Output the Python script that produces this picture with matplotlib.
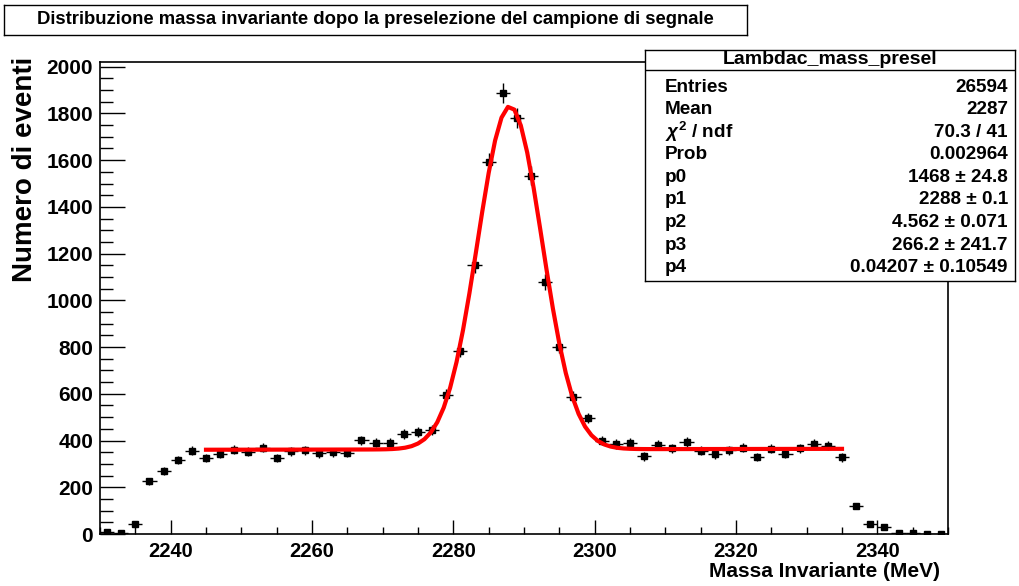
import numpy as np
import matplotlib
matplotlib.use("Agg")
import matplotlib.pyplot as plt
from matplotlib.ticker import MultipleLocator
from matplotlib.lines import Line2D

plt.rcParams['font.family'] = ['Liberation Sans', 'DejaVu Sans']
plt.rcParams['font.weight'] = 'bold'
plt.rcParams['mathtext.fontset'] = 'custom'
plt.rcParams['mathtext.rm'] = 'Liberation Sans:bold'
plt.rcParams['mathtext.it'] = 'Liberation Sans:bold:italic'

# Histogram: 60 bins of 2 MeV between 2230 and 2350
bin_lo, bin_hi, n_bins = 2230.0, 2350.0, 60
counts = [8, 6, 41, 225, 271, 317, 356, 325, 342, 361,
          352, 369, 325, 354, 358, 345, 350, 348, 401, 391,
          391, 428, 435, 446, 595, 785, 1152, 1592, 1887, 1781,
          1534, 1078, 802, 588, 497, 399, 385, 389, 332, 382,
          367, 394, 356, 341, 359, 369, 329, 364, 342, 367,
          385, 378, 328, 118, 42, 31, 3, 4, 2, 2]

# gaus + pol1 fit result
fit_params = [1468.0, 2288.0, 4.562, 266.2, 0.04207]
fit_range = (2245.0, 2335.0)

stats_title = "Lambdac_mass_presel"
stats_labels = ["Entries", "Mean", r"$\chi^{2}$ / ndf", "Prob", "p0", "p1", "p2", "p3", "p4"]
stats_values = ["26594", "2287", "70.3 / 41", "0.002964", "1468 \u00b1 24.8",
                "2288 \u00b1 0.1", "4.562 \u00b1 0.071", "266.2 \u00b1 241.7",
                "0.04207 \u00b1 0.10549"]

title = "Distribuzione massa invariante dopo la preselezione del campione di segnale"
xlabel = "Massa Invariante (MeV)"
ylabel = "Numero di eventi"

W, H = 1020, 586


def fx(x):
    return x / W


def fy(y):
    return 1 - y / H


def fit_func(x, p):
    return p[0] * np.exp(-0.5 * ((x - p[1]) / p[2]) ** 2) + p[3] + p[4] * x


fig = plt.figure(figsize=(W / 100, H / 100), dpi=100)
fig.patch.set_facecolor('white')

# main frame
ax = fig.add_axes([fx(100), fy(534), fx(948 - 100), (534 - 62) / H])
edges = np.linspace(bin_lo, bin_hi, n_bins + 1)
centers = 0.5 * (edges[:-1] + edges[1:])
half = 0.5 * (edges[1] - edges[0])
y = np.array(counts, dtype=float)
ax.errorbar(centers, y, xerr=half, yerr=np.sqrt(y), fmt='s', color='black',
            ms=5, elinewidth=1, capsize=0, zorder=3)

xf = np.linspace(fit_range[0], fit_range[1], 100)
ax.plot(xf, fit_func(xf, fit_params), color='#ff0000', lw=3, zorder=4)

ax.set_xlim(bin_lo, bin_hi)
ax.set_ylim(0, 2020)
ax.xaxis.set_major_locator(MultipleLocator(20))
ax.xaxis.set_minor_locator(MultipleLocator(5))
ax.yaxis.set_major_locator(MultipleLocator(200))
ax.yaxis.set_minor_locator(MultipleLocator(50))
ax.tick_params(axis='x', which='major', direction='in', length=10, width=1, pad=6, labelsize=14.5)
ax.tick_params(axis='x', which='minor', direction='in', length=5, width=1)
ax.tick_params(axis='y', which='major', direction='in', length=18, width=1, pad=5, labelsize=15)
ax.tick_params(axis='y', which='minor', direction='in', length=9, width=1)
for lab in ax.get_xticklabels() + ax.get_yticklabels():
    lab.set_fontweight('bold')
for sp in ax.spines.values():
    sp.set_linewidth(1.2)

fig.text(fx(940), fy(577), xlabel, ha='right', va='baseline', fontsize=15, fontweight='bold')
fig.text(fx(25), fy(57), ylabel, rotation=90, ha='center', va='top', fontsize=20, fontweight='bold')

# title pave
tax = fig.add_axes([fx(4), fy(35), fx(747 - 4), 30 / H])
tax.set_xticks([])
tax.set_yticks([])
for sp in tax.spines.values():
    sp.set_linewidth(1.0)
tax.text(0.5, 0.5, title, ha='center', va='center', fontsize=13.3, fontweight='bold',
         transform=tax.transAxes)

# stats pave
sx0, sx1, sy0, sy1 = 645, 1015, 50, 281
sax = fig.add_axes([fx(sx0), fy(sy1), fx(sx1 - sx0), (sy1 - sy0) / H], zorder=5)
sax.set_xlim(sx0, sx1)
sax.set_ylim(sy1, sy0)
sax.set_xticks([])
sax.set_yticks([])
for sp in sax.spines.values():
    sp.set_linewidth(1.0)
sax.add_line(Line2D([sx0, sx1], [70, 70], color='black', lw=1.0))
sax.text(0.5 * (sx0 + sx1), 60, stats_title, ha='center', va='center', fontsize=14, fontweight='bold')
row_y = 87
for lab, val in zip(stats_labels, stats_values):
    sax.text(665, row_y, lab, ha='left', va='center', fontsize=13.6, fontweight='bold')
    sax.text(1008, row_y, val, ha='right', va='center', fontsize=13.6, fontweight='bold')
    row_y += 22.6

fig.savefig("out.png", dpi=100)
